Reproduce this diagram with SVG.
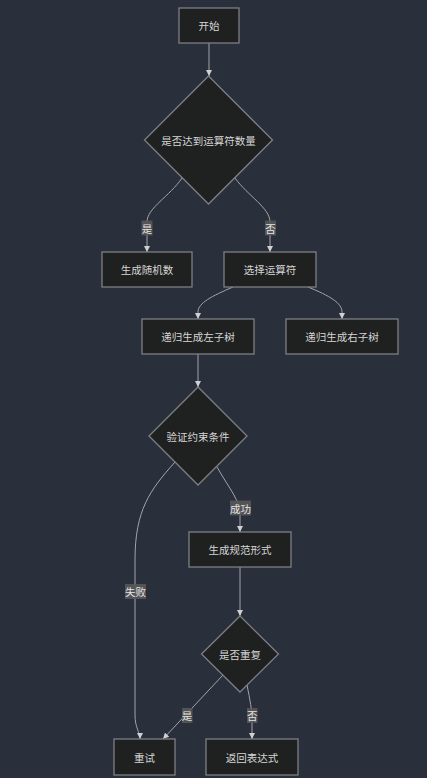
<svg xmlns="http://www.w3.org/2000/svg" width="427" height="778" viewBox="0 0 427 778">
<style>
.node rect,.node polygon{fill:#1f2020;stroke:#7d7f85;stroke-width:1.3}
.node text{fill:#d6d6d6;font-family:"Noto Sans CJK SC","Noto Sans",sans-serif;font-size:10.5px;text-anchor:middle;dominant-baseline:central}
.edges path{fill:none;stroke:#a3a5aa;stroke-width:1}
.lbl rect{fill:#585858;opacity:0.9}
.lbl text{fill:#e4e4e4;font-family:"Noto Sans CJK SC","Noto Sans",sans-serif;font-size:10.5px;text-anchor:middle;dominant-baseline:central}
</style>
<defs>
<marker id="arr" viewBox="0 0 10 10" refX="10" refY="5" markerWidth="6" markerHeight="6" markerUnits="userSpaceOnUse" orient="auto">
<path d="M0,0 L10,5 L0,10 z" fill="#d0d0d0"/>
</marker>
</defs>
<rect width="427" height="778" fill="#2a2f3c"/>
<g class="edges">
<path d="M209,43 L209,76" marker-end="url(#arr)"/>
<path d="M182,178 C170,196 147,208 147,222 L147,252" marker-end="url(#arr)"/>
<path d="M235,178 C248,196 270,208 270,222 L270,252" marker-end="url(#arr)"/>
<path d="M233,287 C212,296 198,303 198,312 L198,319" marker-end="url(#arr)"/>
<path d="M308,287 C330,296 342,303 342,312 L342,319" marker-end="url(#arr)"/>
<path d="M198,354 L198,387" marker-end="url(#arr)"/>
<path d="M217,467 C230,490 240,500 240,515 L240,532" marker-end="url(#arr)"/>
<path d="M175,462 C150,490 135,510 135,560 L135,715 C135,728 140,732 140,739" marker-end="url(#arr)"/>
<path d="M240,567 L240,616" marker-end="url(#arr)"/>
<path d="M223,675 L163,739" marker-end="url(#arr)"/>
<path d="M247,685 C250,700 252,710 252,720 L252,739" marker-end="url(#arr)"/>
</g>
<g class="lbl">
<g id="l1"><rect x="141.5" y="220.5" width="11" height="15"/><text x="147" y="228">是</text></g>
<g id="l2"><rect x="265" y="220.5" width="11" height="15"/><text x="270.5" y="228">否</text></g>
<g id="l3"><rect x="230" y="500.5" width="21" height="15"/><text x="240.5" y="508">成功</text></g>
<g id="l4"><rect x="125" y="584" width="21" height="15"/><text x="135.5" y="591.5">失败</text></g>
<g id="l5"><rect x="182" y="708" width="10.5" height="15"/><text x="187" y="715.5">是</text></g>
<g id="l6"><rect x="247" y="708" width="10.5" height="15"/><text x="252.3" y="715.5">否</text></g>
</g>
<g id="start" class="node"><rect x="179" y="8" width="60" height="35"/><text x="209" y="25.5">开始</text></g>
<g id="d1" class="node"><polygon points="208.5,76 272.5,140 208.5,204 144.5,140"/><text x="208.5" y="140">是否达到运算符数量</text></g>
<g id="rand" class="node"><rect x="102" y="252" width="90" height="35"/><text x="147" y="269.5">生成随机数</text></g>
<g id="op" class="node"><rect x="224" y="252" width="92" height="35"/><text x="270" y="269.5">选择运算符</text></g>
<g id="left" class="node"><rect x="142" y="319" width="112" height="35"/><text x="198" y="336.5">递归生成左子树</text></g>
<g id="right" class="node"><rect x="286" y="319" width="112" height="35"/><text x="342" y="336.5">递归生成右子树</text></g>
<g id="d2" class="node"><polygon points="198,387 247,436 198,485 149,436"/><text x="198" y="436">验证约束条件</text></g>
<g id="norm" class="node"><rect x="189" y="532" width="102" height="35"/><text x="240" y="549.5">生成规范形式</text></g>
<g id="d3" class="node"><polygon points="240,616 278.5,654 240,692 201.5,654"/><text x="240" y="654">是否重复</text></g>
<g id="retry" class="node"><rect x="114" y="739" width="61" height="36"/><text x="144.5" y="757">重试</text></g>
<g id="ret" class="node"><rect x="206" y="739" width="92" height="36"/><text x="252" y="757">返回表达式</text></g>
</svg>
